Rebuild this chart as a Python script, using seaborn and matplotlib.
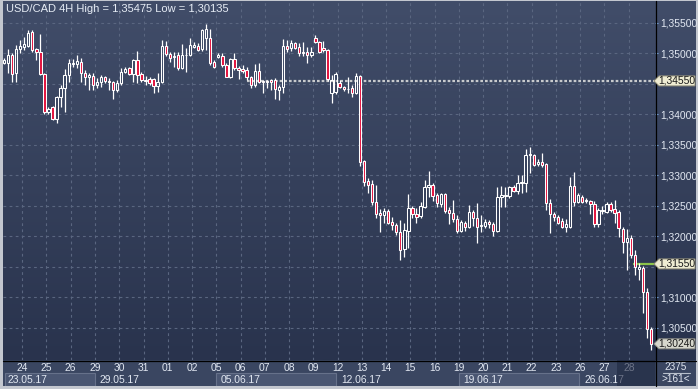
import numpy as np
import pandas as pd
import matplotlib
matplotlib.use("Agg")
import matplotlib.pyplot as plt
import seaborn as sns
from matplotlib.patches import Polygon, Rectangle
from matplotlib.lines import Line2D
from matplotlib.colors import LinearSegmentedColormap

# USD/CAD 4H candles, 23.05.17 - 28.06.17
opens = [1.3484, 1.3484, 1.3498, 1.3468, 1.3507, 1.3511, 1.3512, 1.3535, 1.3507, 1.3503,
         1.3466, 1.3404, 1.3412, 1.3393, 1.3429, 1.3443, 1.3465, 1.3483, 1.3483, 1.3486,
         1.3468, 1.3462, 1.3463, 1.3448, 1.3453, 1.3462, 1.3455, 1.3453, 1.3440, 1.3452,
         1.3470, 1.3476, 1.3466, 1.3489, 1.3466, 1.3457, 1.3458, 1.3458, 1.3447, 1.3453,
         1.3512, 1.3499, 1.3494, 1.3498, 1.3476, 1.3498, 1.3498, 1.3511, 1.3512, 1.3507,
         1.3525, 1.3525, 1.3486, 1.3494, 1.3496, 1.3481, 1.3462, 1.3491, 1.3476, 1.3475,
         1.3473, 1.3462, 1.3448, 1.3471, 1.3455, 1.3455, 1.3457, 1.3457, 1.3440, 1.3445,
         1.3512, 1.3509, 1.3517, 1.3511, 1.3503, 1.3503, 1.3498, 1.3525, 1.3519, 1.3509,
         1.3506, 1.3435, 1.3437, 1.3452, 1.3445, 1.3442, 1.3443, 1.3435, 1.3463, 1.3324,
         1.3291, 1.3286, 1.3257, 1.3238, 1.3235, 1.3242, 1.3224, 1.3219, 1.3207, 1.3180,
         1.3209, 1.3247, 1.3237, 1.3234, 1.3248, 1.3281, 1.3284, 1.3268, 1.3253, 1.3270,
         1.3243, 1.3239, 1.3229, 1.3209, 1.3222, 1.3216, 1.3240, 1.3230, 1.3217, 1.3217,
         1.3224, 1.3221, 1.3209, 1.3265, 1.3267, 1.3266, 1.3281, 1.3275, 1.3288, 1.3288,
         1.3334, 1.3334, 1.3319, 1.3322, 1.3319, 1.3255, 1.3237, 1.3232, 1.3225, 1.3216,
         1.3216, 1.3283, 1.3257, 1.3265, 1.3258, 1.3258, 1.3253, 1.3221, 1.3242, 1.3240,
         1.3253, 1.3245, 1.3240, 1.3212, 1.3191, 1.3198, 1.3170, 1.3147, 1.3148, 1.3109,
         1.3048]
highs = [1.3493, 1.3507, 1.3501, 1.3514, 1.3522, 1.3527, 1.3539, 1.3539, 1.3509, 1.3532,
         1.3468, 1.3412, 1.3414, 1.3430, 1.3448, 1.3475, 1.3491, 1.3491, 1.3498, 1.3493,
         1.3473, 1.3468, 1.3468, 1.3460, 1.3465, 1.3463, 1.3460, 1.3455, 1.3457, 1.3476,
         1.3478, 1.3478, 1.3491, 1.3504, 1.3470, 1.3463, 1.3462, 1.3460, 1.3468, 1.3522,
         1.3520, 1.3503, 1.3503, 1.3503, 1.3516, 1.3509, 1.3525, 1.3519, 1.3517, 1.3540,
         1.35475, 1.3540, 1.3489, 1.3501, 1.3501, 1.3484, 1.3493, 1.3501, 1.3480, 1.3481,
         1.3478, 1.3463, 1.3483, 1.3484, 1.3457, 1.3457, 1.3458, 1.3460, 1.3448, 1.3524,
         1.3522, 1.3522, 1.3519, 1.3517, 1.3519, 1.3511, 1.3511, 1.3530, 1.3520, 1.3520,
         1.3507, 1.3465, 1.3470, 1.3457, 1.3447, 1.3462, 1.3448, 1.3468, 1.3464, 1.3325,
         1.3296, 1.3293, 1.3284, 1.3245, 1.3247, 1.3245, 1.3232, 1.3222, 1.3227, 1.3222,
         1.3270, 1.3250, 1.3247, 1.3257, 1.3293, 1.3307, 1.3288, 1.3271, 1.3271, 1.3271,
         1.3248, 1.3260, 1.3235, 1.3227, 1.3225, 1.3252, 1.3243, 1.3255, 1.3235, 1.3229,
         1.3227, 1.3224, 1.3281, 1.3283, 1.3281, 1.3283, 1.3284, 1.3301, 1.3301, 1.3343,
         1.3347, 1.3335, 1.3327, 1.3337, 1.3320, 1.3262, 1.3240, 1.3235, 1.3230, 1.3229,
         1.3297, 1.3306, 1.3271, 1.3268, 1.3263, 1.3260, 1.3258, 1.3247, 1.3250, 1.3257,
         1.3257, 1.3260, 1.3243, 1.3216, 1.3212, 1.3202, 1.3178, 1.3157, 1.3152, 1.3116,
         1.3052]
lows = [1.3483, 1.3468, 1.3453, 1.3453, 1.3501, 1.3506, 1.3511, 1.3503, 1.3489, 1.3465,
        1.3401, 1.3401, 1.3391, 1.3386, 1.3412, 1.3404, 1.3453, 1.3478, 1.3476, 1.3453,
        1.3448, 1.3440, 1.3440, 1.3443, 1.3445, 1.3452, 1.3440, 1.3425, 1.3437, 1.3448,
        1.3468, 1.3465, 1.3453, 1.3452, 1.3453, 1.3448, 1.3448, 1.3435, 1.3437, 1.3452,
        1.3496, 1.3486, 1.3478, 1.3473, 1.3475, 1.3470, 1.3496, 1.3509, 1.3504, 1.3504,
        1.3506, 1.3481, 1.3476, 1.3493, 1.3478, 1.3461, 1.3460, 1.3473, 1.3458, 1.3468,
        1.3457, 1.3443, 1.3445, 1.3452, 1.3435, 1.3443, 1.3440, 1.3425, 1.3424, 1.3435,
        1.3503, 1.3504, 1.3507, 1.3496, 1.3496, 1.3484, 1.3494, 1.3517, 1.3501, 1.3503,
        1.3455, 1.3419, 1.3434, 1.3443, 1.3439, 1.3435, 1.3429, 1.3434, 1.3316, 1.3283,
        1.3271, 1.3252, 1.3230, 1.3207, 1.3222, 1.3221, 1.3211, 1.3203, 1.3162, 1.3166,
        1.3181, 1.3230, 1.3222, 1.3230, 1.3247, 1.3265, 1.3258, 1.3248, 1.3248, 1.3239,
        1.3221, 1.3224, 1.3206, 1.3207, 1.3209, 1.3214, 1.3217, 1.3189, 1.3207, 1.3214,
        1.3214, 1.3201, 1.3207, 1.3248, 1.3248, 1.3263, 1.3273, 1.3270, 1.3271, 1.3273,
        1.3304, 1.3316, 1.3316, 1.3314, 1.3243, 1.3206, 1.3225, 1.3221, 1.3214, 1.3207,
        1.3214, 1.3250, 1.3255, 1.3255, 1.3255, 1.3237, 1.3216, 1.3216, 1.3237, 1.3239,
        1.3240, 1.3222, 1.3199, 1.3173, 1.3145, 1.3165, 1.3137, 1.3129, 1.3075, 1.3034,
        1.30135]
closes = [1.3489, 1.3498, 1.3466, 1.3507, 1.3512, 1.3516, 1.3534, 1.3506, 1.3503, 1.3466,
          1.3404, 1.3409, 1.3393, 1.3429, 1.3443, 1.3465, 1.3484, 1.3484, 1.3488, 1.3468,
          1.3462, 1.3465, 1.3448, 1.3453, 1.3462, 1.3455, 1.3453, 1.3440, 1.3452, 1.3470,
          1.3475, 1.3466, 1.3489, 1.3465, 1.3457, 1.3455, 1.3452, 1.3447, 1.3453, 1.3512,
          1.3499, 1.3493, 1.3496, 1.3476, 1.3498, 1.3497, 1.3514, 1.3514, 1.3506, 1.3539,
          1.3540, 1.3484, 1.3478, 1.3498, 1.3481, 1.3462, 1.3491, 1.3476, 1.3473, 1.3471,
          1.3462, 1.3448, 1.3471, 1.3453, 1.3453, 1.3453, 1.3453, 1.3442, 1.3445, 1.3512,
          1.3507, 1.3517, 1.3509, 1.3501, 1.3501, 1.3498, 1.3503, 1.3519, 1.3503, 1.3506,
          1.3458, 1.3457, 1.3466, 1.3445, 1.3442, 1.3441, 1.3435, 1.3463, 1.3322, 1.3289,
          1.3284, 1.3257, 1.3237, 1.3235, 1.3242, 1.3222, 1.3219, 1.3207, 1.3178, 1.3211,
          1.3247, 1.3237, 1.3232, 1.3250, 1.3281, 1.3284, 1.3266, 1.3255, 1.3270, 1.3242,
          1.3239, 1.3229, 1.3209, 1.3224, 1.3216, 1.3240, 1.3230, 1.3216, 1.3218, 1.3224,
          1.3221, 1.3209, 1.3265, 1.3268, 1.3268, 1.3281, 1.3275, 1.3288, 1.3289, 1.3334,
          1.3335, 1.3317, 1.3322, 1.3317, 1.3255, 1.3237, 1.3232, 1.3222, 1.3216, 1.3221,
          1.3283, 1.3257, 1.3268, 1.3257, 1.3259, 1.3253, 1.3221, 1.3243, 1.3243, 1.3253,
          1.3243, 1.3239, 1.3214, 1.3191, 1.3198, 1.3170, 1.3150, 1.3150, 1.3109, 1.3048,
          1.3024]

day_labels = ['24', '25', '26', '29', '30', '31', '01', '02', '05', '06', '07', '08', '09',
              '12', '13', '14', '15', '16', '19', '20', '21', '22', '23', '26', '27', '28']
week_labels = ['23.05.17', '29.05.17', '05.06.17', '12.06.17', '19.06.17', '26.06.17']
week_first_day = [-1, 3, 8, 13, 18, 23]   # index into day_labels (-1 = starts before)
bars_per_day = 6
first_day_bar = 5

price_ticks = [1.305, 1.310, 1.320, 1.325, 1.330, 1.335, 1.340, 1.350, 1.355]
marked_level = 1.3455       # dotted level line
order_level = 1.3155        # green line
last_close = closes[-1]
high_all, low_all = max(highs), min(lows)
counter_top, counter_bottom = '2375', '>161<'

df = pd.DataFrame({'open': opens, 'high': highs, 'low': lows, 'close': closes})
df['bull'] = df['close'] >= df['open']

W, H = 698, 389
sns.set_style('dark')
plt.rcParams['font.family'] = ['Liberation Sans Narrow', 'Liberation Sans', 'DejaVu Sans']

fig = plt.figure(figsize=(W / 100, H / 100), dpi=100)
fig.patch.set_facecolor('#c3c7cf')


def fr(x0, y0, x1, y1):
    # pixel box -> figure fraction [l, b, w, h]
    return [x0 / W, 1 - y1 / H, (x1 - x0) / W, (y1 - y0) / H]


grad = LinearSegmentedColormap.from_list('bg', ['#414d69', '#29334d'])

# right price panel
rp = fig.add_axes(fr(655, 1, 696, 360), zorder=0)
rp.imshow(np.linspace(0, 1, 256).reshape(-1, 1), cmap=grad, aspect='auto',
          extent=[0, 1, 0, 1])
rp.set_axis_off()

# bottom time panel
bp = fig.add_axes(fr(3, 360, 655, 386), zorder=0)
bp.set_facecolor('#3a4661')
cp = fig.add_axes(fr(655, 360, 696, 386), zorder=0)
cp.set_facecolor('#3a4661')
for a in (bp, cp):
    a.set_xticks([]); a.set_yticks([])
    for s in a.spines.values():
        s.set_visible(False)

# main plot
ax = fig.add_axes(fr(3, 1, 655, 360), zorder=1)
n = len(df)
x0, x1 = -0.25, n - 1 + 0.99
y0, y1 = 1.29975, 1.35860
ax.imshow(np.linspace(0, 1, 256).reshape(-1, 1), cmap=grad, aspect='auto',
          extent=[x0, x1, y0, y1], zorder=0)
ax.set_xlim(x0, x1)
ax.set_ylim(y0, y1)

grid_kw = dict(color='#5a6680', lw=0.8, ls=(0, (2.5, 3)), zorder=1)
for p in price_ticks + [1.345, 1.315]:
    ax.axhline(p, **grid_kw)
day_pos = [first_day_bar - 0.5 + bars_per_day * k for k in range(len(day_labels))]
for d in day_pos:
    ax.axvline(d, **grid_kw)

# level lines
ax.hlines(marked_level, 60, x1, color='#c8cacd', lw=1.6, ls=(0, (1.2, 0.9)), zorder=2)
ax.hlines(order_level, 155.5, x1, color='#8cc34a', lw=1.6, zorder=2)

# candles
xs = df.index.values
top = df[['open', 'close']].max(axis=1)
bot = df[['open', 'close']].min(axis=1)
ax.vlines(xs, top, df['high'], color='white', lw=0.9, zorder=3)
ax.vlines(xs, df['low'], bot, color='white', lw=0.9, zorder=3)
body_h = (top - bot).clip(lower=0.00004)
face = np.where(df['bull'], 'none', '#e3143f')
ax.bar(xs, body_h, bottom=bot, width=0.58, color=face, edgecolor='white',
       linewidth=0.75, zorder=4)

ax.set_xticks([])
ax.yaxis.tick_right()
ax.set_yticks(price_ticks)
ax.set_yticklabels([f'{p:.5f}'.replace('.', ',') for p in price_ticks])
ax.tick_params(axis='y', direction='out', length=2.5, width=0.8, color='#7aa6dc',
               pad=1.5, labelsize=7.4, labelcolor='#e2e8f2', right=True, left=False)
for s in ax.spines.values():
    s.set_visible(False)

ax.text(0.004, 0.978, f'USD/CAD 4H High = {high_all:.5f} Low = {low_all:.5f}'.replace('.', ','),
        transform=ax.transAxes, ha='left', va='center', color='#e6ecf5', fontsize=8.0,
        zorder=6)

# time axis labels
bp.set_xlim(x0, x1)
bp.set_ylim(0, 1)
for d, lab in zip(day_pos, day_labels):
    bp.text(d, 0.69, lab, ha='center', va='center', color='#e2e8f2', fontsize=7.4)
week_starts = [x0] + [day_pos[i] for i in week_first_day[1:]]
week_ends = week_starts[1:] + [x1]
for i, (ws, we, lab) in enumerate(zip(week_starts, week_ends, week_labels)):
    if i % 2 == 0:
        bp.add_patch(Rectangle((ws + 0.4 if i == 0 else ws, 0.0), we - ws - 0.4, 0.5,
                               facecolor='#4a5672', edgecolor='#66718a', lw=0.8))
    bp.text(ws + 1.0, 0.24, lab, ha='left', va='center', color='#e2e8f2', fontsize=7.4)
bp.add_patch(Rectangle((151.5, 0), x1 - 151.5, 1, facecolor='#1f2841', alpha=0.6,
                       lw=0, zorder=5))

cp.text(0.5, 0.74, counter_top, ha='center', va='center', color='#e2e8f2', fontsize=7.2,
        transform=cp.transAxes)
cp.text(0.5, 0.28, counter_bottom, ha='center', va='center', color='#e2e8f2', fontsize=7.2,
        transform=cp.transAxes)
cp.plot([0.2, 0.85], [0.5, 0.5], color='#b8c0cc', lw=0.8, transform=cp.transAxes)


# price tags on the right scale
def tag(price, face, edge):
    yp = H - ax.transData.transform((0, price))[1] * H / fig.bbox.height
    pts = [(654, yp), (659, yp - 5), (695, yp - 5), (695, yp + 5), (659, yp + 5)]
    fig.add_artist(Polygon([(px / W, 1 - py / H) for px, py in pts], closed=True,
                           facecolor=face, edgecolor=edge, lw=0.7, zorder=10))
    fig.text(677 / W, 1 - yp / H, f'{price:.5f}'.replace('.', ','), ha='center',
             va='center', color='#1a1a1a', fontsize=7.4, zorder=11)


fig.canvas.draw()
tag(marked_level, '#efecd2', '#8f8c78')
tag(order_level, '#efecd2', '#8f8c78')
tag(last_close, '#d6d6cc', '#8f8f88')

# frame lines
fig.add_artist(Line2D([655.5 / W] * 2, [1 - 1 / H, 1 - 386 / H], color='black', lw=0.9,
                      zorder=9))
fig.add_artist(Line2D([3 / W, 696 / W], [1 - 360.5 / H] * 2, color='black', lw=0.9,
                      zorder=9))

fig.savefig('out.png', dpi=100, facecolor=fig.get_facecolor())
